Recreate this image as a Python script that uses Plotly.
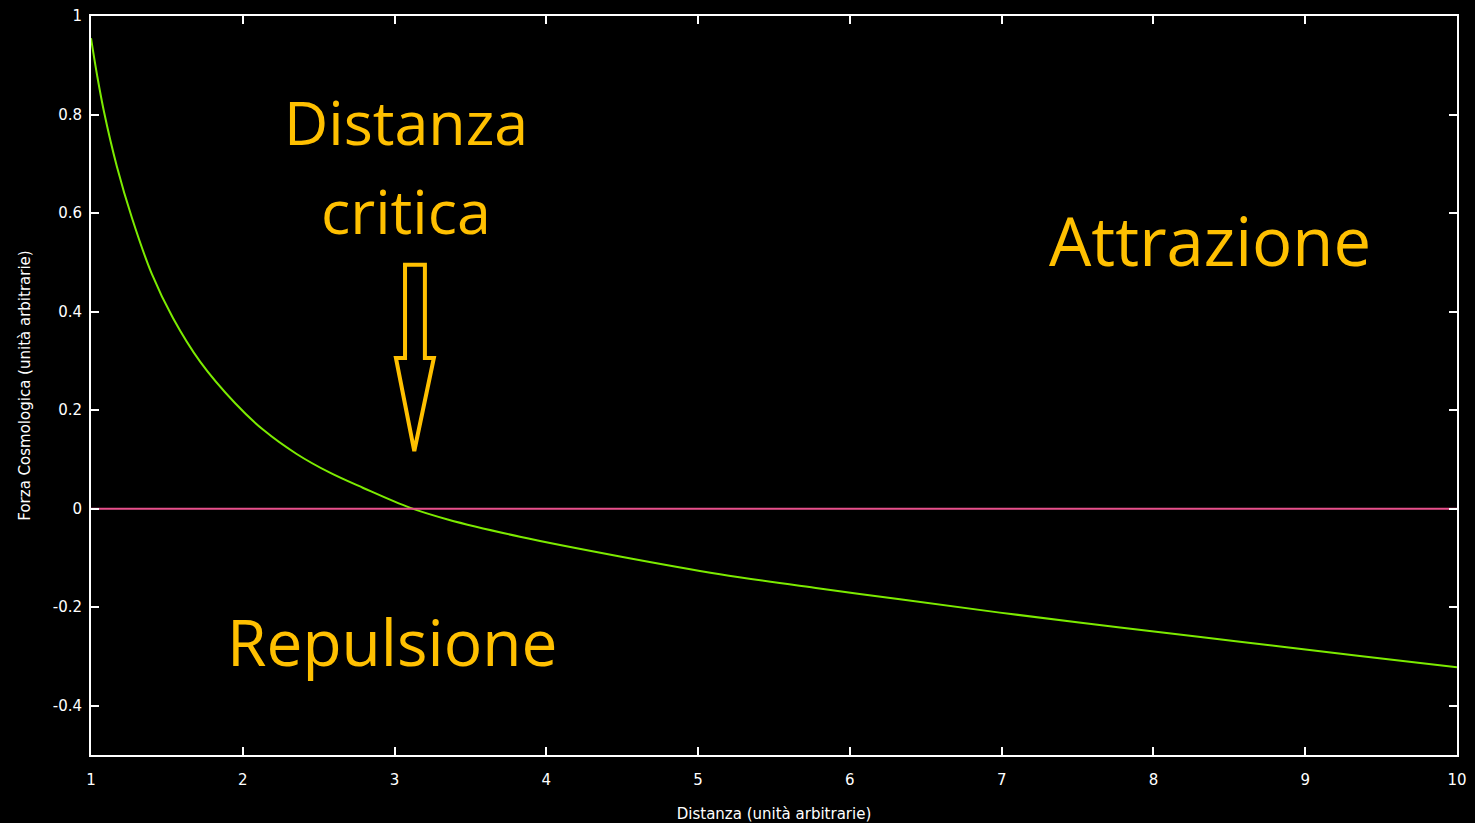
import plotly.graph_objects as go

# Curve values
distanza = [1.0, 1.04, 1.086, 1.17, 1.27, 1.40, 1.54, 1.72, 1.95, 2.135, 2.355, 2.574, 2.794,
            3.10, 3.35, 3.826, 4.485, 5.144, 5.80, 6.33, 6.988, 7.78, 8.57, 9.36, 10.0]
forza = [0.955, 0.88, 0.805, 0.695, 0.59, 0.477, 0.387, 0.298, 0.214, 0.16, 0.111, 0.073, 0.042,
         0.002, -0.022, -0.057, -0.097, -0.133, -0.162, -0.184, -0.211, -0.241, -0.270, -0.299, -0.322]

zero_x = [1, 10]
zero_y = [0, 0]

x_ticks = [1, 2, 3, 4, 5, 6, 7, 8, 9, 10]
y_ticks = [-0.4, -0.2, 0, 0.2, 0.4, 0.6, 0.8, 1]
y_tick_labels = ["-0.4", "-0.2", "0", "0.2", "0.4", "0.6", "0.8", "1"]

# Hollow arrow outline (data coordinates)
arrow_x = [3.069, 3.200, 3.200, 3.259, 3.130, 3.009, 3.069, 3.069]
arrow_y = [0.495, 0.495, 0.306, 0.306, 0.117, 0.306, 0.306, 0.495]

GOLD = "#FFC000"

fig = go.Figure()
fig.add_trace(go.Scatter(x=distanza, y=forza, mode="lines",
                         line=dict(color="#7CEB00", width=2, shape="spline", smoothing=1.0),
                         hoverinfo="skip", showlegend=False))
fig.add_trace(go.Scatter(x=zero_x, y=zero_y, mode="lines",
                         line=dict(color="#E8508C", width=2),
                         hoverinfo="skip", showlegend=False))

path = "M " + " L ".join(f"{a},{b}" for a, b in zip(arrow_x, arrow_y)) + " Z"
fig.add_shape(type="path", path=path, xref="x", yref="y",
              line=dict(color=GOLD, width=4), fillcolor="rgba(0,0,0,0)")

font_big = "Open Sans, Noto Sans, sans-serif"
fig.add_annotation(x=3.075, y=0.785, text="Distanza", showarrow=False,
                   font=dict(family=font_big, size=61, color=GOLD))
fig.add_annotation(x=3.075, y=0.605, text="critica", showarrow=False,
                   font=dict(family=font_big, size=61, color=GOLD))
fig.add_annotation(x=8.37, y=0.545, text="Attrazione", showarrow=False,
                   font=dict(family=font_big, size=67, color=GOLD))
fig.add_annotation(x=2.985, y=-0.27, text="Repulsione", showarrow=False,
                   font=dict(family=font_big, size=64, color=GOLD))

axis_font = dict(family="DejaVu Sans, sans-serif", size=15, color="white")
fig.update_xaxes(range=[1, 10], tickvals=x_ticks, ticktext=[str(v) for v in x_ticks],
                 showgrid=False, zeroline=False, showline=True, linecolor="white",
                 linewidth=2, mirror="ticks", ticks="inside", ticklen=8, tickwidth=2,
                 tickcolor="white", tickfont=axis_font, ticklabelstandoff=10,
                 automargin=False,
                 title=dict(text="Distanza (unità arbitrarie)", font=axis_font, standoff=20))
fig.update_yaxes(range=[-0.5, 1], tickvals=y_ticks, ticktext=y_tick_labels,
                 showgrid=False, zeroline=False, showline=True, linecolor="white",
                 linewidth=2, mirror="ticks", ticks="inside", ticklen=8, tickwidth=2,
                 tickcolor="white", tickfont=axis_font, ticklabelstandoff=4,
                 automargin=False,
                 title=dict(text="Forza Cosmologica (unità arbitrarie)", font=axis_font, standoff=18))

fig.update_layout(width=1475, height=823, paper_bgcolor="black", plot_bgcolor="black",
                  margin=dict(l=91, r=18, t=16, b=68), showlegend=False)

fig.write_html("out.html", config={"displayModeBar": False},
               post_script="document.body.style.margin='0';document.body.style.background='black';")
